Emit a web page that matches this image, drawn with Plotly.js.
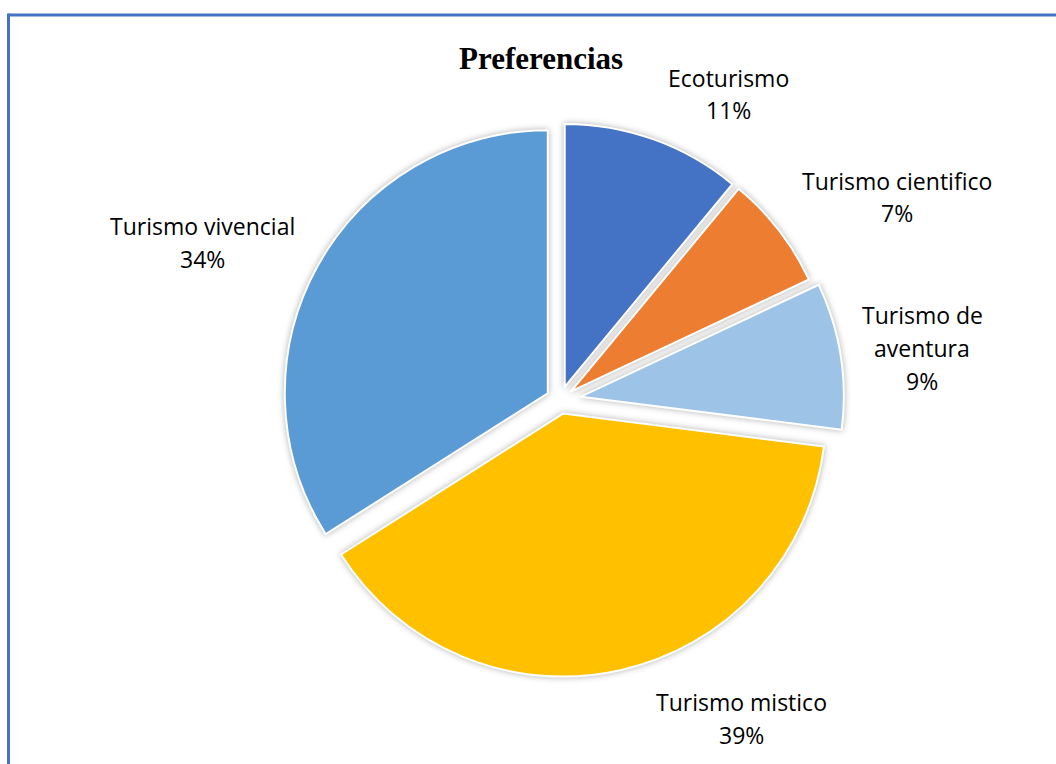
<!DOCTYPE html>
<html>
<head>
<meta charset="utf-8">
<script src="https://cdn.plot.ly/plotly-3.0.1.min.js"></script>
<style>
  html, body { margin: 0; padding: 0; background: #fff; }
  #chart { width: 1056px; height: 764px; }
  .slice path.surface { filter: drop-shadow(0px 0px 3px rgba(0,0,0,0.3)); }
  text { font-variant-ligatures: none; }
</style>
</head>
<body>
<div id="chart"></div>
<script>
// Data
const categories = ["Ecoturismo", "Turismo cientifico", "Turismo de aventura", "Turismo mistico", "Turismo vivencial"];
const displayLabels = ["Ecoturismo", "Turismo cientifico", "Turismo de<br>aventura", "Turismo mistico", "Turismo vivencial"];
const values = [11, 7, 9, 39, 34];
const colors = ["#4472C4", "#ED7D31", "#9DC3E6", "#FFC000", "#5B9BD5"];
const pulls = [0.053, 0.053, 0.08, 0.053, 0.053];

// Label positions (pixel centers of the label block)
const labelPos = [[728, 94], [897, 197], [922, 348], [741, 718], [202, 242]];
const lineGap = 33;

const W = 1056, H = 764;
const labelFont = { family: "'Open Sans', 'Noto Sans', sans-serif", size: 23, color: "#000" };

const annotations = [];
categories.forEach((c, i) => {
  const lines = (displayLabels[i] + "<br>" + values[i] + "%").split("<br>");
  const y0 = labelPos[i][1] - (lines.length - 1) * lineGap / 2;
  lines.forEach((ln, k) => {
    annotations.push({
      xref: "paper", yref: "paper",
      x: labelPos[i][0] / W, y: 1 - (y0 + k * lineGap) / H,
      xanchor: "center", yanchor: "middle",
      text: ln, showarrow: false, align: "center", font: labelFont
    });
  });
});

annotations.push({
  xref: "paper", yref: "paper", x: 541 / W, y: 1 - 59 / H,
  xanchor: "center", yanchor: "middle", showarrow: false,
  text: "<b>Preferencias</b>",
  font: { family: "'Liberation Serif', 'Times New Roman', serif", size: 31, color: "#000" }
});

const half = 263 * (1 + Math.max(...pulls));
const trace = {
  type: "pie",
  labels: categories,
  values: values,
  sort: false,
  direction: "clockwise",
  rotation: 0,
  pull: pulls,
  marker: { colors: colors, line: { color: "#ffffff", width: 2 } },
  textinfo: "none",
  hoverinfo: "label+percent",
  showlegend: false,
  domain: { x: [(560 - half) / W, (560 + half) / W], y: [1 - (400 + half) / H, 1 - (400 - half) / H] }
};

const layout = {
  width: W, height: H,
  margin: { l: 0, r: 0, t: 0, b: 0 },
  paper_bgcolor: "#ffffff",
  showlegend: false,
  annotations: annotations,
  shapes: [
    { type: "line", xref: "paper", yref: "paper", x0: 8.5 / W, x1: 1, y0: 1 - 15 / H, y1: 1 - 15 / H, line: { color: "#4472C4", width: 3 } },
    { type: "line", xref: "paper", yref: "paper", x0: 8.5 / W, x1: 8.5 / W, y0: 1 - 13.5 / H, y1: 0, line: { color: "#4472C4", width: 3 } }
  ]
};

Plotly.newPlot("chart", [trace], layout, { displayModeBar: false, staticPlot: true });
</script>
</body>
</html>
